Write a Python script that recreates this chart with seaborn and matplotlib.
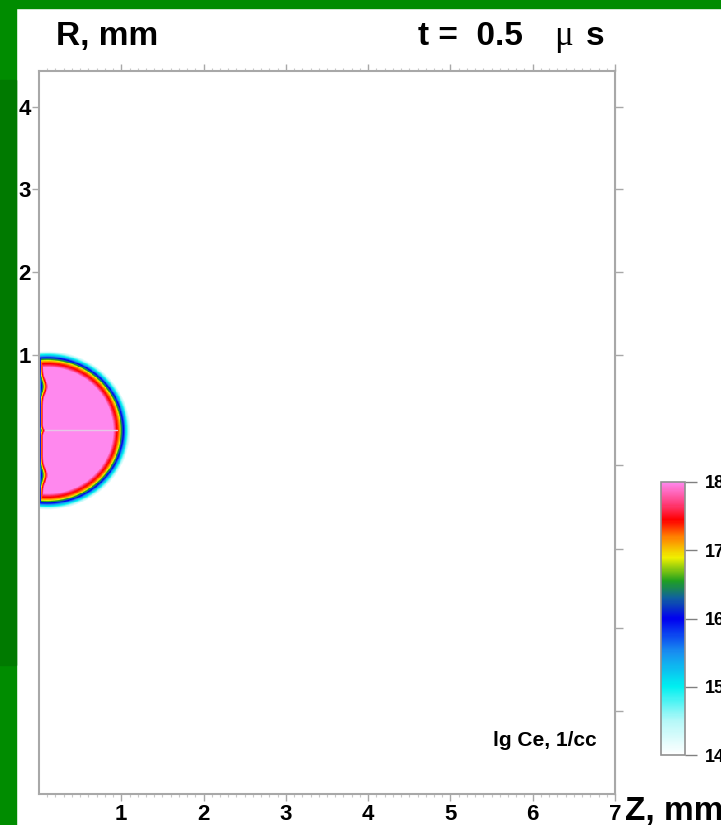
import numpy as np
import pandas as pd
import matplotlib.pyplot as plt
import seaborn as sns
from matplotlib.colors import LinearSegmentedColormap
from matplotlib.patches import Rectangle

sns.set_style('white')
plt.rcParams['font.family'] = ['Liberation Sans', 'DejaVu Sans']
plt.rcParams['font.weight'] = 'bold'
plt.rcParams['text.color'] = 'black'

# --- axes / ticks ---
z_ticks = [1, 2, 3, 4, 5, 6, 7]
r_ticks = [1, 2, 3, 4]
r_ticks_right = [4, 3, 2, 1, -0.33, -1.34, -2.3, -3.3]
cbar_ticks = [14, 15, 16, 17, 18]
z_max, r_top, r_bot = 7.0, 4.43, -4.30

# --- lg Ce front (radial profile from blob centre, mm) ---
center_z, center_r, r_squeeze = 0.10, 0.09, 0.95
front_d = [0.0, 0.80, 0.83, 0.865, 0.885, 0.90, 0.925, 0.95, 0.98, 1.01]
front_lg = [18.0, 18.0, 17.6, 17.3, 17.0, 16.6, 16.0, 15.3, 14.6, 14.0]

# --- wall layer at z = 0 and its notches ---
wall_base = 0.055
wall_w = [0.0, 0.3, 0.65, 1.0]
wall_lg = [15.0, 16.0, 17.3, 18.0]
notch_r = [0.62, 0.09, -0.45]
notch_depth = [0.06, 0.02, 0.06]
notch_width = [0.1, 0.03, 0.1]

# --- colour scale ---
cmap_vals = [14.0, 14.5, 15.0, 15.5, 16.0, 16.3, 16.55, 16.9, 17.2, 17.45, 17.7, 18.0]
cmap_cols = ['#FFFFFF', '#B4F8F8', '#00F0F0', '#1890F0', '#0000F0', '#1060A0',
             '#20A020', '#F0F000', '#FF8000', '#FF0000', '#FF4080', '#FF88EE']

green_light, green_dark = '#008C00', '#007A00'
spine_col = '#A8A8A8'

# grid
dz = dr = 0.01
z = np.arange(0, z_max, dz) + dz / 2
r = np.arange(r_top, r_bot, -dr) - dr / 2
Z, R = np.meshgrid(z, r)
dist = np.hypot(Z - center_z, (R - center_r) / r_squeeze)
lg_front = np.interp(dist, front_d, front_lg)
thick = wall_base + sum(dp * np.exp(-((R - r0) / w) ** 2)
                        for r0, dp, w in zip(notch_r, notch_depth, notch_width))
lg_wall = np.interp(Z / thick, wall_w, wall_lg)
lg = np.minimum(lg_front, lg_wall)
df = pd.DataFrame(lg, index=np.round(r, 3), columns=np.round(z, 3))

cmap = LinearSegmentedColormap.from_list(
    'ce', [((v - 14) / 4, c) for v, c in zip(cmap_vals, cmap_cols)])


def zx(v):
    return np.asarray(v) / dz


def ry(v):
    return (r_top - np.asarray(v)) / dr


W, H = 721, 825
fig = plt.figure(figsize=(W / 100, H / 100), dpi=100)
fig.patch.set_facecolor('white')
fig.add_artist(Rectangle((0, 1 - 8 / H), 1, 8 / H, transform=fig.transFigure, color=green_light, zorder=0))
fig.add_artist(Rectangle((0, 0), 16 / W, 1, transform=fig.transFigure, color=green_light, zorder=0))
fig.add_artist(Rectangle((0, 1 - 665 / H), 16 / W, 585 / H, transform=fig.transFigure, color=green_dark, zorder=0))

ax = fig.add_axes([39 / W, 1 - 794 / H, 576 / W, 723 / H])
cax = fig.add_axes([661 / W, 1 - 755 / H, 24 / W, 273 / H])

sns.heatmap(df, ax=ax, cmap=cmap, vmin=14, vmax=18, cbar_ax=cax,
            cbar_kws={'ticks': cbar_ticks}, xticklabels=False, yticklabels=False,
            rasterized=True)

# faint symmetry line through the blob
ax.plot(zx([0.07, 0.95]), ry([center_r, center_r]), color='#E6C6E6', lw=1)

for sp in ax.spines.values():
    sp.set_visible(True)
    sp.set_color(spine_col)
    sp.set_linewidth(1.5)

ax.set_xticks(zx(z_ticks))
ax.set_xticklabels([str(t) for t in z_ticks])
ax.set_xticks(zx(np.arange(0.1, 7, 0.1)), minor=True)
ax.set_yticks(ry(r_ticks))
ax.set_yticklabels([str(t) for t in r_ticks])
ax.tick_params(axis='both', which='major', direction='out', length=5, width=1,
               color=spine_col, labelsize=16, labelcolor='black', pad=2)
ax.tick_params(axis='x', which='both', top=True, bottom=True, labeltop=False)
ax.tick_params(axis='x', which='minor', length=2, width=0.8, color='#C8C8C8')
ax.tick_params(axis='y', left=True, right=False)
ax.tick_params(axis='y', pad=1)

sec = ax.secondary_yaxis('right')
sec.set_yticks(ry(r_ticks_right))
sec.set_yticklabels([])
sec.tick_params(direction='out', length=6, width=1, color=spine_col)
sec.spines['right'].set_color(spine_col)
sec.spines['right'].set_linewidth(1.5)

cbar = ax.collections[0].colorbar
cbar.outline.set_linewidth(1.2)
cbar.outline.set_edgecolor('#909090')
cax.tick_params(direction='out', length=8.5, width=1, color='#808080',
                labelsize=13, labelcolor='black', pad=6, right=True)
cbar.set_ticklabels([str(t) for t in cbar_ticks])

fig.text(56 / W, 1 - 45 / H, 'R, mm', fontsize=24, fontweight='bold', va='baseline')
fig.text(418 / W, 1 - 45 / H, 't =  0.5', fontsize=24, fontweight='bold', va='baseline')
fig.text(554 / W, 1 - 45 / H, '\u03bc', fontsize=25, fontweight='normal',
         family=['Liberation Serif', 'DejaVu Serif'], va='baseline')
fig.text(604 / W, 1 - 45 / H, 's', fontsize=24, fontweight='bold', va='baseline', ha='right')
fig.text(625 / W, 1 - 820 / H, 'Z, mm', fontsize=24, fontweight='bold', va='baseline')
ax.text(zx(6.78), ry(-3.66), 'lg Ce, 1/cc', fontsize=15, fontweight='bold',
        ha='right', va='center')

fig.savefig('out.png', dpi=100)
